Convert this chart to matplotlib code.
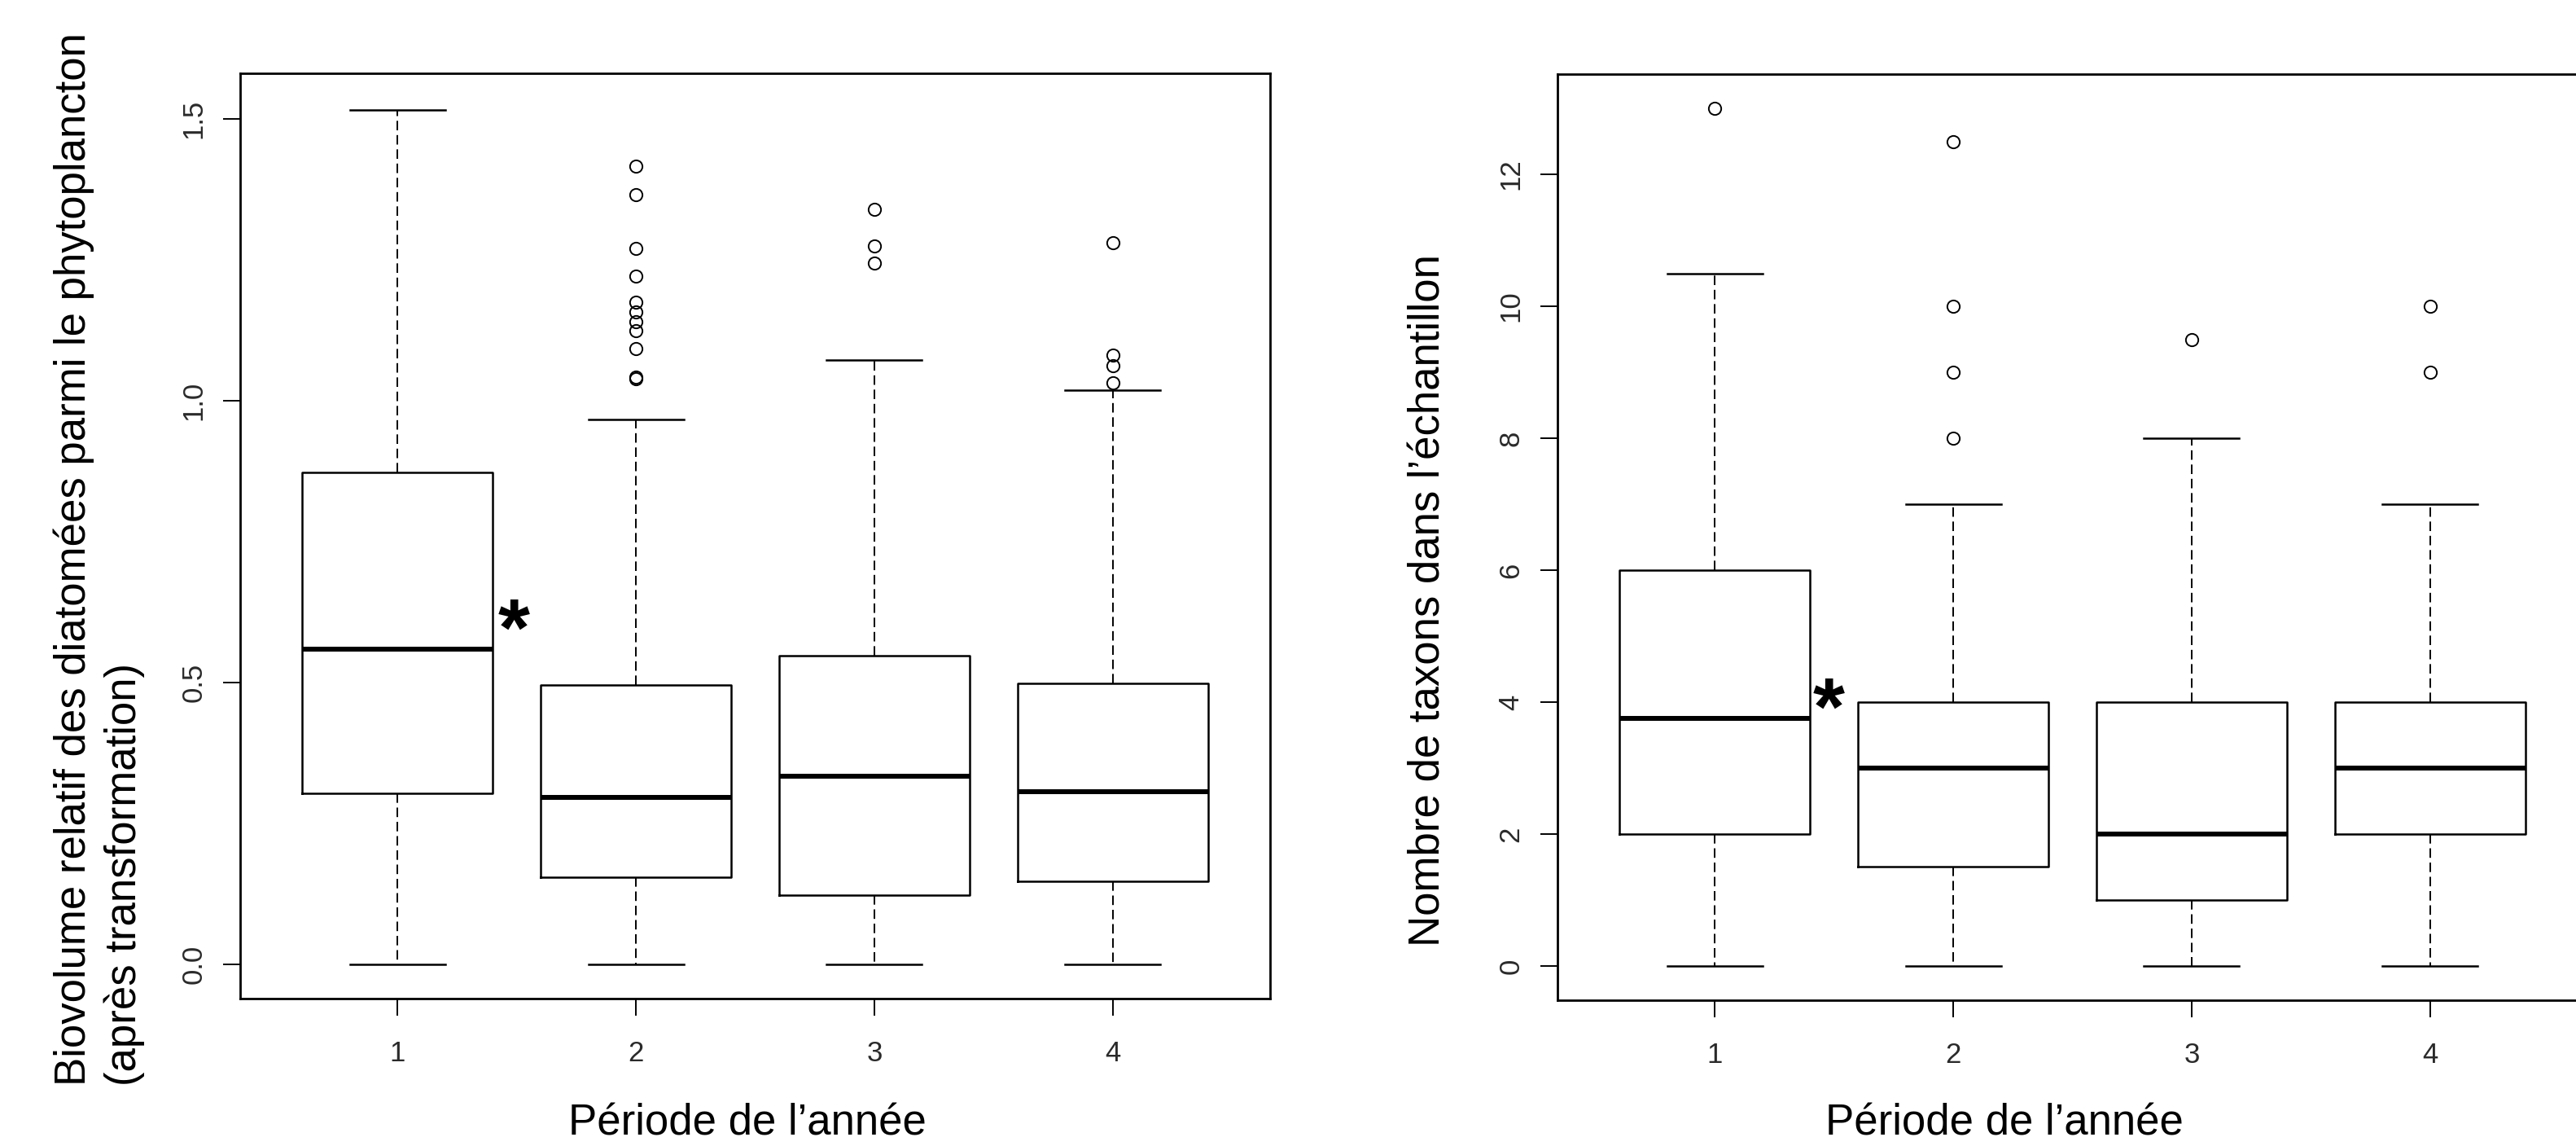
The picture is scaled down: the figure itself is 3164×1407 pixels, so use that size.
import matplotlib
matplotlib.use("Agg")
import matplotlib.pyplot as plt

plt.rcParams['font.family'] = ['Liberation Sans', 'DejaVu Sans']

periodes = [1, 2, 3, 4]

# biovolume relatif des diatomées (après transformation)
bio_whislo = [0.0, 0.0, 0.0, 0.0]
bio_q1 = [0.303, 0.154, 0.123, 0.147]
bio_med = [0.559, 0.296, 0.333, 0.306]
bio_q3 = [0.873, 0.495, 0.548, 0.498]
bio_whishi = [1.516, 0.966, 1.072, 1.019]
bio_fliers = [
    [],
    [1.416, 1.366, 1.270, 1.221, 1.175, 1.157, 1.140, 1.124, 1.092, 1.042, 1.039],
    [1.339, 1.274, 1.244],
    [1.280, 1.081, 1.062, 1.032],
]

# nombre de taxons dans l'échantillon
tax_whislo = [0, 0, 0, 0]
tax_q1 = [2, 1.5, 1, 2]
tax_med = [3.75, 3, 2, 3]
tax_q3 = [6, 4, 4, 4]
tax_whishi = [10.5, 7, 8, 7]
tax_fliers = [[13], [12.5, 10, 9, 8], [9.5], [10, 9]]

W, H = 3164, 1407
fig = plt.figure(figsize=(W / 100, H / 100), dpi=100)


def make_stats(lo, q1, med, q3, hi, fl):
    return [dict(whislo=lo[i], q1=q1[i], med=med[i], q3=q3[i], whishi=hi[i], fliers=fl[i])
            for i in range(len(med))]


def draw_box(ax, stats, ylim, yticks, ylabels):
    ax.bxp(stats, positions=periodes, widths=0.8, capwidths=0.4,
           boxprops=dict(color='black', linewidth=1.8),
           whiskerprops=dict(color='black', linewidth=1.4, linestyle=(0, (6, 3))),
           capprops=dict(color='black', linewidth=1.8),
           medianprops=dict(color='black', linewidth=4.3, solid_capstyle='butt'),
           flierprops=dict(marker='o', markersize=11, markerfacecolor='none',
                           markeredgecolor='black', markeredgewidth=1.4))
    ax.set_xlim(0.34, 4.66)
    ax.set_ylim(*ylim)
    ax.set_xticks(periodes)
    ax.set_xticklabels([str(p) for p in periodes])
    ax.set_yticks(yticks)
    ax.set_yticklabels(ylabels)
    for s in ax.spines.values():
        s.set_linewidth(2.0)
    ax.tick_params(axis='both', length=15, width=1.4, labelsize=25, labelcolor='#2a2a2a')
    ax.tick_params(axis='x', pad=22)
    ax.tick_params(axis='y', pad=14, labelrotation=90)
    for lab in ax.get_yticklabels():
        lab.set_va('center')


ax1 = fig.add_axes([295 / W, 1 - 1226 / H, 1265 / W, 1136 / H])
draw_box(ax1, make_stats(bio_whislo, bio_q1, bio_med, bio_q3, bio_whishi, bio_fliers),
         (-0.0608, 1.5808), [0.0, 0.5, 1.0, 1.5], ['0.0', '0.5', '1.0', '1.5'])
ax1.text(1.488, 0.585, '*', fontsize=72, fontweight='bold', ha='center', va='center')

ax2 = fig.add_axes([1913 / W, 1 - 1228 / H, 1265 / W, 1137 / H])
draw_box(ax2, make_stats(tax_whislo, tax_q1, tax_med, tax_q3, tax_whishi, tax_fliers),
         (-0.52, 13.52), [0, 2, 4, 6, 8, 10, 12], ['0', '2', '4', '6', '8', '10', '12'])
ax2.text(1.478, 3.83, '*', fontsize=72, fontweight='bold', ha='center', va='center')

# axis titles
fig.text(918 / W, 1 - 1393 / H, 'Période de l’année', fontsize=38, ha='center', va='baseline')
fig.text(2462 / W, 1 - 1393 / H, 'Période de l’année', fontsize=38, ha='center', va='baseline')
fig.text(65 / W, 1 - 1333 / H,
         'Biovolume relatif des diatomées parmi le phytoplancton\n(après transformation)',
         fontsize=38, rotation=90, ha='left', va='bottom', multialignment='left',
         linespacing=1.3)
fig.text(1730 / W, 1 - 1162 / H, 'Nombre de taxons dans l’échantillon',
         fontsize=38, rotation=90, ha='left', va='bottom')

fig.savefig('out.png', dpi=100)
